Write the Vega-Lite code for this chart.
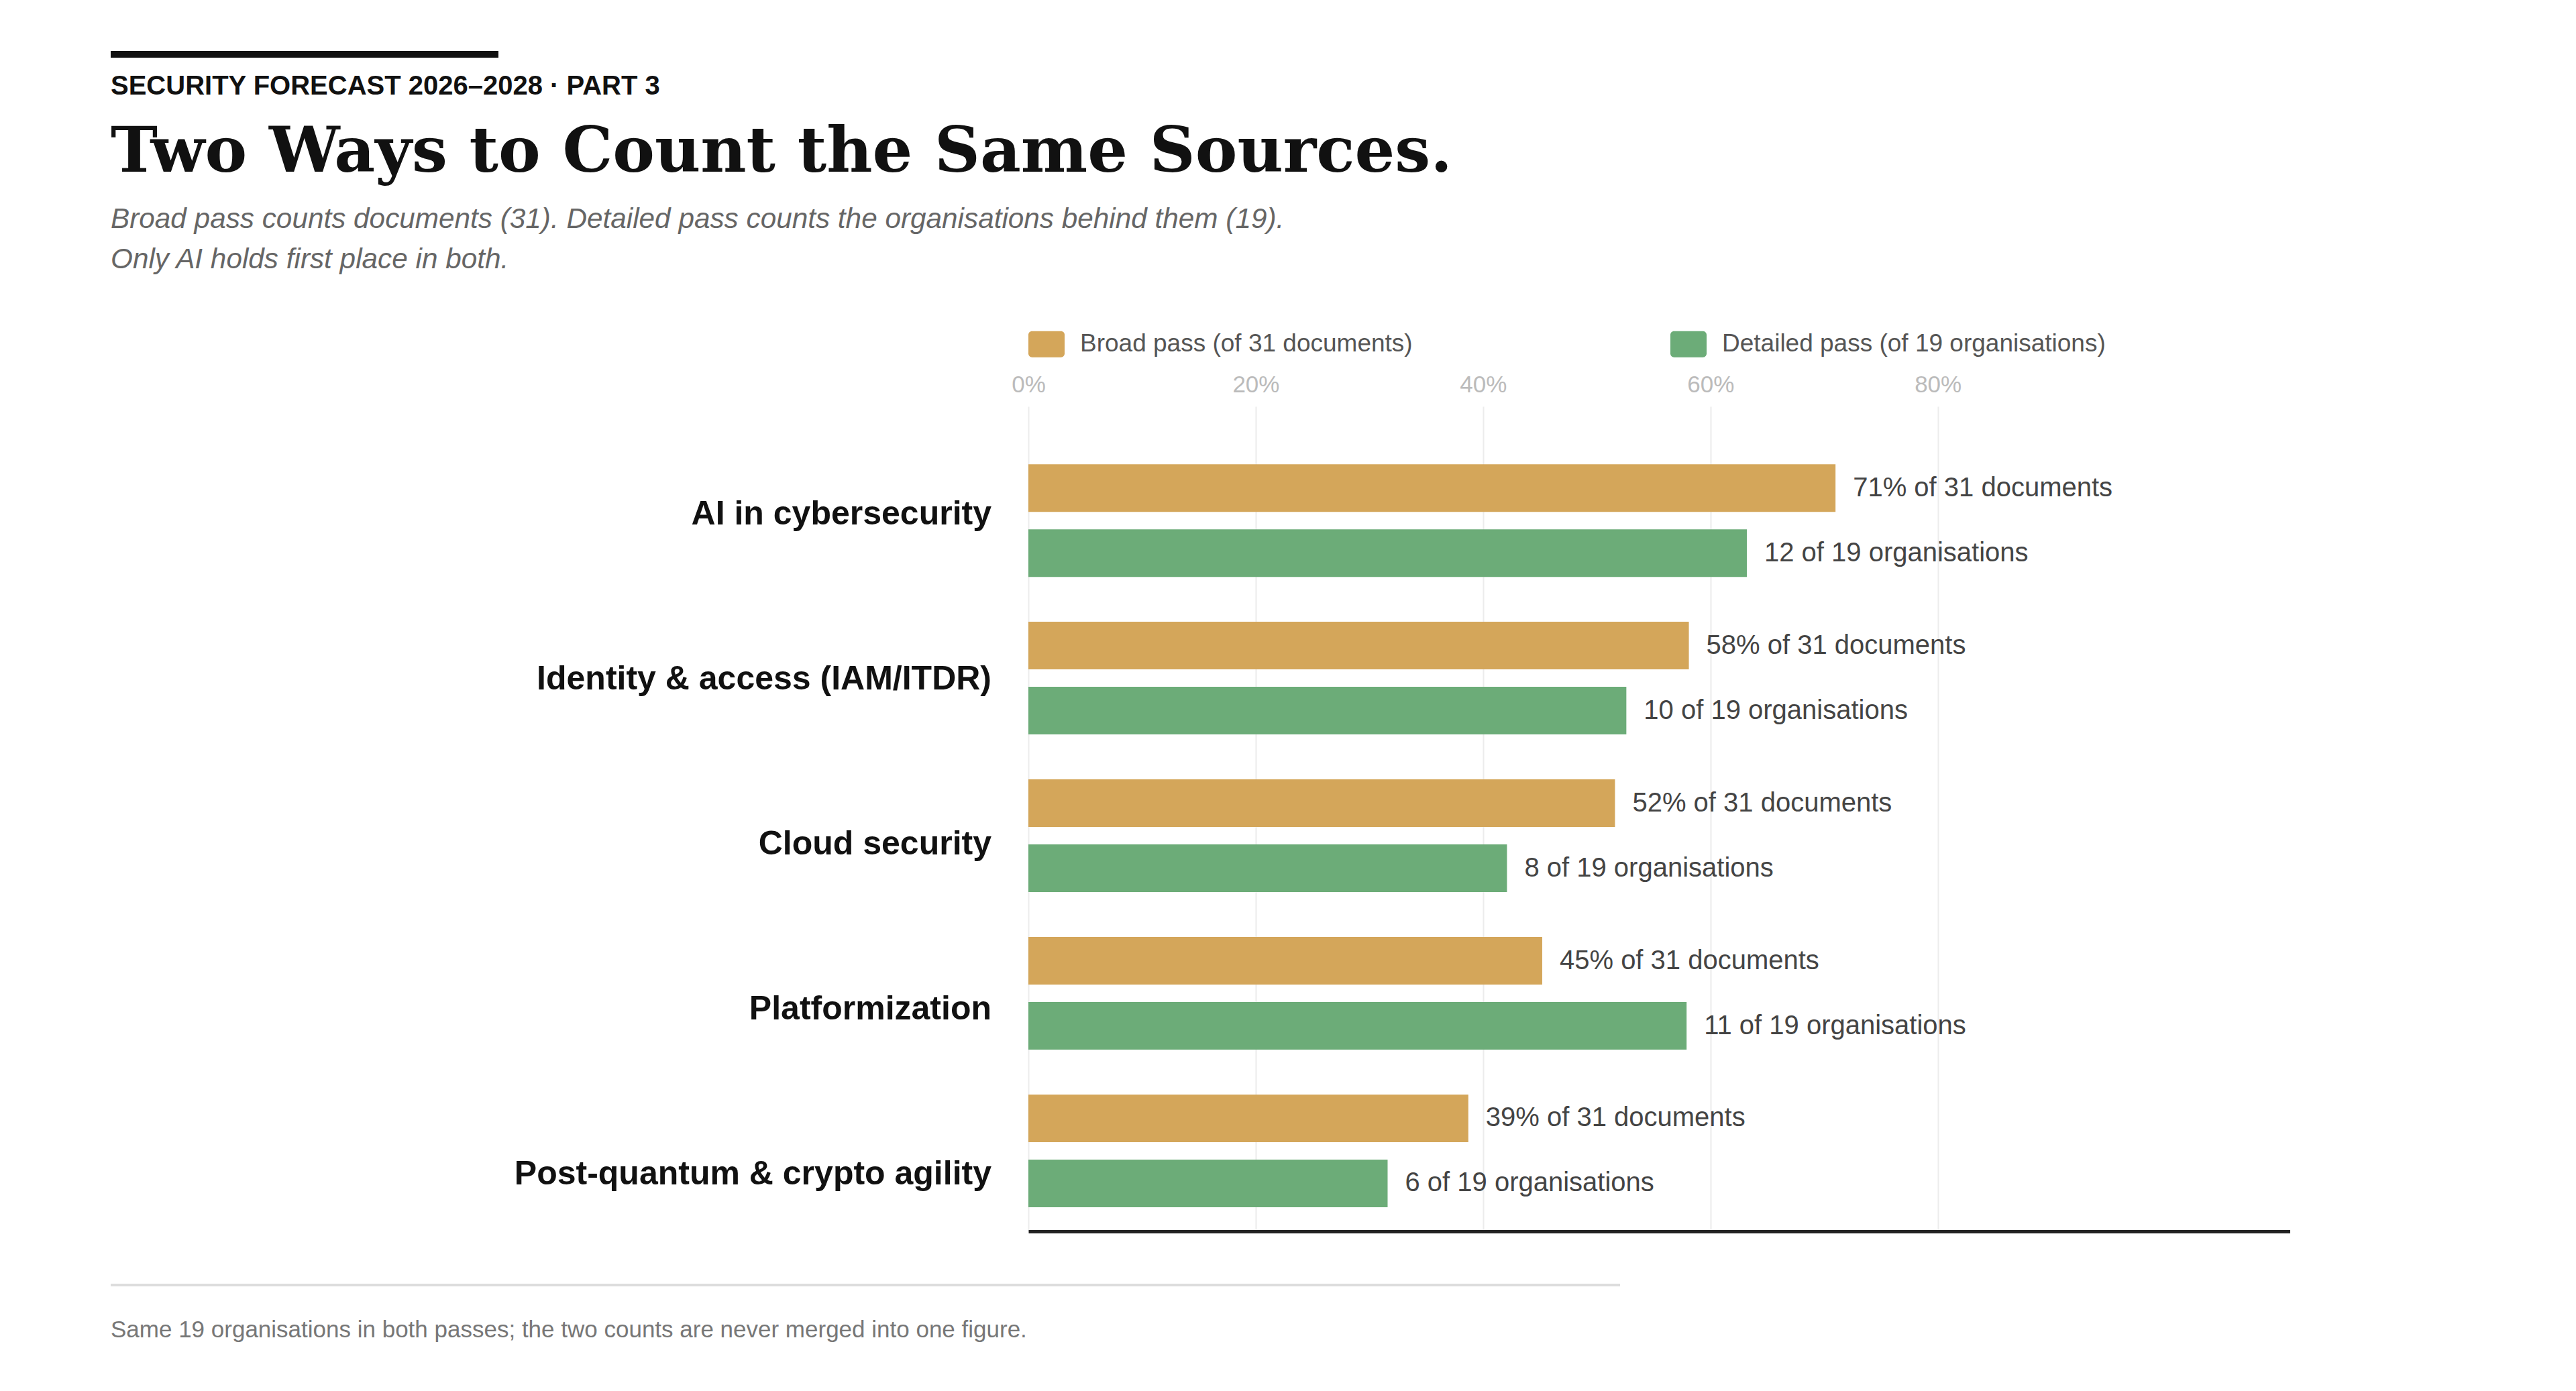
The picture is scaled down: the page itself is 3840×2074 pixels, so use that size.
{
  "$schema": "https://vega.github.io/schema/vega-lite/v6.json",
  "background": "white",
  "padding": {"left": 160, "top": 76, "right": 0, "bottom": 0},
  "spacing": 30,
  "config": {
    "view": {"stroke": null},
    "font": "Liberation Sans",
    "title": {"fontWeight": "normal"}
  },
  "resolve": {"scale": {"color": "independent"}, "legend": {"color": "independent"}},
  "vconcat": [
    {
      "width": 578,
      "height": 10,
      "data": {"values": [{"start": 0, "end": 1}]},
      "mark": {"type": "rule", "color": "#111111", "strokeWidth": 10},
      "encoding": {
        "x": {"field": "start", "type": "quantitative", "scale": {"domain": [0, 1]}, "axis": null},
        "x2": {"field": "end"}
      },
      "title": {
        "text": "SECURITY FORECAST 2026–2028 · PART 3",
        "subtitle": "Two Ways to Count the Same Sources.",
        "orient": "bottom",
        "anchor": "start",
        "frame": "group",
        "offset": 23,
        "font": "Liberation Sans",
        "fontSize": 40,
        "fontWeight": "bold",
        "color": "#111111",
        "subtitleFont": "DejaVu Serif",
        "subtitleFontSize": 94,
        "subtitleFontWeight": "bold",
        "subtitleColor": "#111111",
        "subtitlePadding": 33
      }
    },
    {
      "title": {
        "text": [
          "Broad pass counts documents (31). Detailed pass counts the organisations behind them (19).",
          "Only AI holds first place in both."
        ],
        "anchor": "start",
        "frame": "bounds",
        "offset": 77,
        "font": "Liberation Sans",
        "fontStyle": "italic",
        "fontSize": 42.3,
        "lineHeight": 60,
        "color": "#666666"
      },
      "spacing": 29,
      "resolve": {"scale": {"color": "independent"}, "legend": {"color": "independent"}},
      "hconcat": [
        {
          "width": 1313,
          "height": 1230,
          "data": {
            "values": [
              {"topic": "AI in cybersecurity"},
              {"topic": "Identity & access (IAM/ITDR)"},
              {"topic": "Cloud security"},
              {"topic": "Platformization"},
              {"topic": "Post-quantum & crypto agility"}
            ]
          },
          "mark": {
            "type": "text",
            "align": "right",
            "baseline": "middle",
            "dy": -12,
            "font": "Liberation Sans",
            "fontSize": 50,
            "fontWeight": "bold",
            "color": "#111111"
          },
          "encoding": {
            "x": {"datum": 1, "type": "quantitative", "scale": {"domain": [0, 1]}, "axis": null},
            "y": {
              "field": "topic",
              "type": "nominal",
              "sort": null,
              "axis": null,
              "scale": {"paddingInner": 0.285, "paddingOuter": 0.26, "align": 0.705}
            },
            "text": {"field": "topic"}
          }
        },
        {
          "width": 1881,
          "height": 1230,
          "data": {
            "values": [
              {"topic": "AI in cybersecurity", "pass": "Broad pass (of 31 documents)", "share": 0.71, "label": "71% of 31 documents"},
              {"topic": "AI in cybersecurity", "pass": "Detailed pass (of 19 organisations)", "share": 0.632, "label": "12 of 19 organisations"},
              {"topic": "Identity & access (IAM/ITDR)", "pass": "Broad pass (of 31 documents)", "share": 0.581, "label": "58% of 31 documents"},
              {"topic": "Identity & access (IAM/ITDR)", "pass": "Detailed pass (of 19 organisations)", "share": 0.526, "label": "10 of 19 organisations"},
              {"topic": "Cloud security", "pass": "Broad pass (of 31 documents)", "share": 0.516, "label": "52% of 31 documents"},
              {"topic": "Cloud security", "pass": "Detailed pass (of 19 organisations)", "share": 0.421, "label": "8 of 19 organisations"},
              {"topic": "Platformization", "pass": "Broad pass (of 31 documents)", "share": 0.452, "label": "45% of 31 documents"},
              {"topic": "Platformization", "pass": "Detailed pass (of 19 organisations)", "share": 0.579, "label": "11 of 19 organisations"},
              {"topic": "Post-quantum & crypto agility", "pass": "Broad pass (of 31 documents)", "share": 0.387, "label": "39% of 31 documents"},
              {"topic": "Post-quantum & crypto agility", "pass": "Detailed pass (of 19 organisations)", "share": 0.316, "label": "6 of 19 organisations"}
            ]
          },
          "encoding": {
            "y": {
              "field": "topic",
              "type": "nominal",
              "sort": null,
              "axis": null,
              "scale": {"paddingInner": 0.285, "paddingOuter": 0.26, "align": 0.705}
            },
            "yOffset": {
              "field": "pass",
              "type": "nominal",
              "sort": null,
              "scale": {"paddingInner": 0.268, "paddingOuter": 0}
            }
          },
          "resolve": {"axis": {"x": "independent"}},
          "layer": [
            {
              "mark": {"type": "bar"},
              "encoding": {
                "x": {
                  "field": "share",
                  "type": "quantitative",
                  "scale": {"domain": [0, 1.11], "nice": false},
                  "axis": {
                    "orient": "top",
                    "values": [0, 0.2, 0.4, 0.6, 0.8],
                    "format": ".0%",
                    "title": null,
                    "grid": true,
                    "gridColor": "#ececec",
                    "gridWidth": 2,
                    "domain": false,
                    "ticks": false,
                    "labelFlush": false,
                    "labelFont": "Liberation Sans",
                    "labelFontSize": 35,
                    "labelColor": "#bbbbbb",
                    "labelPadding": 15
                  }
                },
                "color": {
                  "field": "pass",
                  "type": "nominal",
                  "sort": null,
                  "scale": {
                    "domain": ["Broad pass (of 31 documents)", "Detailed pass (of 19 organisations)"],
                    "range": ["#d4a65a", "#6cac78"]
                  },
                  "legend": {
                    "orient": "top",
                    "direction": "horizontal",
                    "title": null,
                    "offset": 23,
                    "padding": 0,
                    "symbolType": "M-0.8,-0.72H0.8A0.2,0.2 0 0 1 1,-0.52V0.52A0.2,0.2 0 0 1 0.8,0.72H-0.8A0.2,0.2 0 0 1 -1,0.52V-0.52A0.2,0.2 0 0 1 -0.8,-0.72Z",
                    "symbolSize": 2916,
                    "symbolStrokeWidth": 0,
                    "symbolOpacity": 1,
                    "labelFont": "Liberation Sans",
                    "labelFontSize": 37,
                    "labelColor": "#555555",
                    "labelOffset": 23,
                    "labelLimit": 0,
                    "columnPadding": 384
                  }
                }
              }
            },
            {
              "mark": {
                "type": "text",
                "align": "left",
                "baseline": "middle",
                "dx": 26,
                "font": "Liberation Sans",
                "fontSize": 40,
                "color": "#444444"
              },
              "encoding": {
                "x": {
                  "field": "share",
                  "type": "quantitative",
                  "scale": {"domain": [0, 1.11], "nice": false},
                  "axis": {
                    "orient": "bottom",
                    "title": null,
                    "labels": false,
                    "ticks": false,
                    "grid": false,
                    "domainColor": "#222222",
                    "domainWidth": 5
                  }
                },
                "text": {"field": "label"}
              }
            }
          ]
        }
      ]
    },
    {
      "width": 2250,
      "height": 100,
      "data": {"values": [{"start": 0, "end": 1}]},
      "mark": {"type": "rule", "color": "#dddddd", "strokeWidth": 4},
      "encoding": {
        "x": {"field": "start", "type": "quantitative", "scale": {"domain": [0, 1]}, "axis": null},
        "x2": {"field": "end"}
      },
      "title": {
        "text": "Same 19 organisations in both passes; the two counts are never merged into one figure.",
        "orient": "bottom",
        "anchor": "start",
        "frame": "group",
        "offset": 0,
        "font": "Liberation Sans",
        "fontSize": 35,
        "color": "#777777"
      }
    }
  ]
}
